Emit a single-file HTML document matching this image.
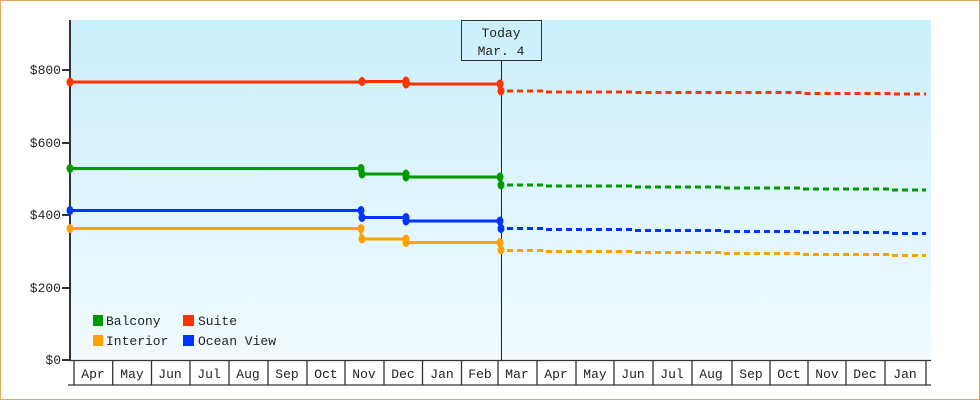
<!DOCTYPE html>
<html><head><meta charset="utf-8"><style>
html,body{margin:0;padding:0;background:#fff}
svg{display:block}
text{font-family:"Liberation Mono","DejaVu Sans Mono",monospace;font-size:13px;fill:#222}
</style></head><body>
<svg width="980" height="400" viewBox="0 0 980 400" xmlns="http://www.w3.org/2000/svg">
<defs><linearGradient id="bg" x1="0" y1="0" x2="0" y2="1"><stop offset="0" stop-color="#cbeffc"/><stop offset="1" stop-color="#f2fbff"/></linearGradient></defs>
<rect x="0.5" y="0.5" width="979" height="399" fill="#fff" stroke="#e6a65e"/>
<rect x="70" y="20" width="861" height="340" fill="url(#bg)"/>
<line x1="70" y1="20" x2="70" y2="361" stroke="#333" stroke-width="2"/>
<g stroke="#333" stroke-width="2">
<line x1="62" y1="70" x2="70" y2="70"/><line x1="62" y1="143" x2="70" y2="143"/><line x1="62" y1="215" x2="70" y2="215"/><line x1="62" y1="288" x2="70" y2="288"/><line x1="62" y1="360" x2="70" y2="360"/>
</g>
<g text-anchor="end">
<text x="61" y="74">$800</text><text x="61" y="147">$600</text><text x="61" y="219">$400</text><text x="61" y="292">$200</text><text x="61" y="364">$0</text>
</g>
<g stroke="#333" stroke-width="1.3" fill="none">
<line x1="68" y1="360.5" x2="931" y2="360.5"/><line x1="68" y1="385" x2="931" y2="385"/>
<line x1="74" y1="360" x2="74" y2="385"/><line x1="112.7" y1="360" x2="112.7" y2="385"/><line x1="151.5" y1="360" x2="151.5" y2="385"/><line x1="190" y1="360" x2="190" y2="385"/><line x1="229" y1="360" x2="229" y2="385"/><line x1="268" y1="360" x2="268" y2="385"/><line x1="307" y1="360" x2="307" y2="385"/><line x1="345" y1="360" x2="345" y2="385"/><line x1="384" y1="360" x2="384" y2="385"/><line x1="422.5" y1="360" x2="422.5" y2="385"/><line x1="461.5" y1="360" x2="461.5" y2="385"/><line x1="498" y1="360" x2="498" y2="385"/><line x1="537" y1="360" x2="537" y2="385"/><line x1="576" y1="360" x2="576" y2="385"/><line x1="614" y1="360" x2="614" y2="385"/><line x1="653" y1="360" x2="653" y2="385"/><line x1="692" y1="360" x2="692" y2="385"/><line x1="732" y1="360" x2="732" y2="385"/><line x1="770" y1="360" x2="770" y2="385"/><line x1="808" y1="360" x2="808" y2="385"/><line x1="846" y1="360" x2="846" y2="385"/><line x1="885" y1="360" x2="885" y2="385"/><line x1="926" y1="360" x2="926" y2="385"/>
</g>
<g text-anchor="middle">
<text x="93" y="378">Apr</text><text x="132" y="378">May</text><text x="170" y="378">Jun</text><text x="209" y="378">Jul</text><text x="248" y="378">Aug</text><text x="287" y="378">Sep</text><text x="326" y="378">Oct</text><text x="364" y="378">Nov</text><text x="403" y="378">Dec</text><text x="442" y="378">Jan</text><text x="480" y="378">Feb</text><text x="517" y="378">Mar</text><text x="556" y="378">Apr</text><text x="595" y="378">May</text><text x="633" y="378">Jun</text><text x="672" y="378">Jul</text><text x="711" y="378">Aug</text><text x="751" y="378">Sep</text><text x="789" y="378">Oct</text><text x="827" y="378">Nov</text><text x="865" y="378">Dec</text><text x="905" y="378">Jan</text>
</g>
<line x1="501.5" y1="60" x2="501.5" y2="360" stroke="#222" stroke-width="1"/>
<rect x="461.5" y="20.5" width="80" height="40" fill="none" stroke="#333"/>
<text x="501" y="37" text-anchor="middle">Today</text>
<text x="501" y="55" text-anchor="middle">Mar. 4</text>
<g fill="none" stroke-width="3">
<polyline stroke="#ff3300" points="70,82 362,82 362,81.5 406,81.5 406,84 501,84"/>
<polyline stroke="#009900" points="70,168.5 361,168.5 361,174 406,174 406,177 501,177"/>
<polyline stroke="#0033ff" points="70,210.5 361,210.5 361,217.5 406,217.5 406,221 501,221"/>
<polyline stroke="#ffa200" points="70,228.5 361,228.5 361,239 406,239 406,242.5 501,242.5"/>
</g>
<g fill="none" stroke-width="3" stroke-dasharray="6,4">
<polyline stroke="#ff3300" points="507,91 543,91 543,92 632,92 632,92.5 721,92.5 721,92.5 802,92.5 802,93.5 891,93.5 891,94 926,94"/>
<polyline stroke="#009900" points="507,185 543,185 543,186 632,186 632,187 721,187 721,188 802,188 802,189 891,189 891,190 926,190"/>
<polyline stroke="#0033ff" points="507,228.5 543,228.5 543,229.5 632,229.5 632,230.5 721,230.5 721,231.5 802,231.5 802,232.5 891,232.5 891,233.5 926,233.5"/>
<polyline stroke="#ffa200" points="507,250.5 543,250.5 543,251.5 632,251.5 632,252.5 721,252.5 721,253.5 802,253.5 802,254.5 891,254.5 891,255.5 926,255.5"/>
</g>
<g>
<g fill="#ff3300"><ellipse cx="70" cy="82" rx="3.5" ry="4.5"/><ellipse cx="362" cy="81.5" rx="3.5" ry="4.5"/><ellipse cx="406" cy="81" rx="3.5" ry="4.5"/><ellipse cx="406" cy="84" rx="3.5" ry="4.5"/><ellipse cx="500" cy="84" rx="3.5" ry="4.5"/><ellipse cx="501" cy="91" rx="3.5" ry="4.5"/></g>
<g fill="#009900"><ellipse cx="70" cy="168.5" rx="3.5" ry="4.5"/><ellipse cx="361" cy="168.5" rx="3.5" ry="4.5"/><ellipse cx="362" cy="174" rx="3.5" ry="4.5"/><ellipse cx="406" cy="174" rx="3.5" ry="4.5"/><ellipse cx="406" cy="177" rx="3.5" ry="4.5"/><ellipse cx="500" cy="177" rx="3.5" ry="4.5"/><ellipse cx="501" cy="185" rx="3.5" ry="4.5"/></g>
<g fill="#0033ff"><ellipse cx="70" cy="210.5" rx="3.5" ry="4.5"/><ellipse cx="361" cy="210.5" rx="3.5" ry="4.5"/><ellipse cx="362" cy="217.5" rx="3.5" ry="4.5"/><ellipse cx="406" cy="217.5" rx="3.5" ry="4.5"/><ellipse cx="406" cy="221" rx="3.5" ry="4.5"/><ellipse cx="500" cy="221" rx="3.5" ry="4.5"/><ellipse cx="501" cy="228.5" rx="3.5" ry="4.5"/></g>
<g fill="#ffa200"><ellipse cx="70" cy="228.5" rx="3.5" ry="4.5"/><ellipse cx="361" cy="228.5" rx="3.5" ry="4.5"/><ellipse cx="362" cy="239" rx="3.5" ry="4.5"/><ellipse cx="406" cy="239" rx="3.5" ry="4.5"/><ellipse cx="406" cy="242.5" rx="3.5" ry="4.5"/><ellipse cx="500" cy="242.5" rx="3.5" ry="4.5"/><ellipse cx="501" cy="250" rx="3.5" ry="4.5"/></g>
</g>
<rect x="93" y="315" width="10" height="11" fill="#009900"/><text x="106" y="325">Balcony</text>
<rect x="183" y="315" width="11" height="11" fill="#ff3300"/><text x="198" y="325">Suite</text>
<rect x="93" y="335" width="10" height="11" fill="#ffa200"/><text x="106" y="345">Interior</text>
<rect x="183" y="335" width="11" height="11" fill="#0033ff"/><text x="198" y="345">Ocean View</text>
</svg>
</body></html>
